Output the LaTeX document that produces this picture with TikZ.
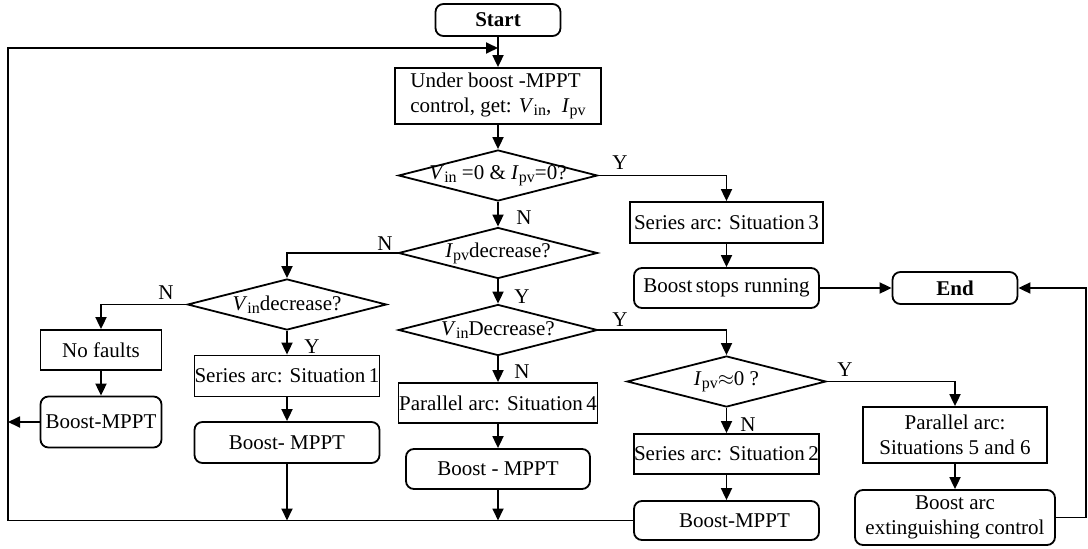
\documentclass[tikz,border=0pt]{standalone}
\usepackage{fontspec}
\setmainfont{Liberation Serif}
\usetikzlibrary{arrows.meta, shapes.geometric}
\tikzset{>={Triangle[length=12pt,width=11pt]}}

\newcommand{\sbs}[1]{\raisebox{-3pt}{\fontsize{16}{16}\selectfont #1}}
\newcommand{\Vin}{\textit{V}\sbs{in}}
\newcommand{\Ipv}{\textit{I}\sbs{pv}}

\begin{document}
\begin{tikzpicture}[x=1pt, y=-1pt, line width=1.8pt,
    every node/.style={font=\fontsize{21}{25}\selectfont},
    sz/.style 2 args={minimum width=#1pt, minimum height=#2pt},
    proc/.style={draw, rectangle, inner sep=0pt, align=center},
    term/.style={proc, rounded corners=8pt},
    dec/.style={draw, diamond, inner sep=0pt, minimum width=199pt, minimum height=51pt},
    yn/.style={inner sep=0pt}]
    \useasboundingbox (0,0) rectangle (1088,549);

    % main column
    \node[term, sz={125}{32}] (start) at (498,20) {\textbf{Start}};
    \node[proc, sz={206}{56}, align=left] (get) at (498,96) {Under boost -MPPT\\control, get: \Vin,\ \ \Ipv};
    \node[dec] (d1) at (498,175.5) {\makebox[0pt]{\Vin\ =0 \& \Ipv=0?}};
    \node[dec] (d2) at (498,253) {\makebox[0pt]{\Ipv decrease?}};
    \node[dec] (d4) at (498,330) {\makebox[0pt]{\Vin Decrease?}};
    \node[proc, sz={199}{40}] (s4) at (498,403) {Parallel arc: Situation\,4};
    \node[term, sz={184}{40}] (bm4) at (498,469) {Boost - MPPT};

    % left columns
    \node[dec] (d3) at (287,304.5) {\makebox[0pt]{\Vin decrease?}};
    \node[proc, sz={185}{41}] (s1) at (287,376) {Series arc: Situation\,1};
    \node[term, sz={185}{41}] (bm1) at (287,442.5) {Boost- MPPT};
    \node[proc, sz={121}{40}] (nf) at (101,350) {No faults};
    \node[term, sz={121}{51}] (bm0) at (101,422) {Boost-MPPT};

    % right columns
    \node[proc, sz={193}{41}] (s3) at (726.5,222.5) {Series arc: Situation\,3};
    \node[term, sz={185}{40}] (stop) at (726.5,288) {Boost\,stops running};
    \node[dec] (d5) at (726.5,381.5) {\makebox[0pt]{\Ipv$\approx$0 ?}};
    \node[proc, sz={185}{40}] (s2) at (726.5,454) {Series arc: Situation\,2};
    \node[term, sz={185}{39}] (bm2) at (726.5,520.5) {\hspace*{16pt}Boost-MPPT};
    \node[term, sz={125}{32}] (end) at (955,288) {\textbf{End}};
    \node[proc, sz={184}{56}] (s56) at (955,435) {Parallel arc:\\Situations 5 and 6};
    \node[term, sz={200}{55}] (ext) at (955,517.5) {Boost arc\\extinguishing control};

    \coordinate (lb) at (8,520.5);
    \coordinate (lt) at (8,48);
    \coordinate (rt) at (1086,517.5);

    \draw[->] (start) -- (get);
    \draw[->] (get) -- (d1);
    \draw[->] (d1.east) -| (s3.north);
    \draw[->] (d1) -- (d2);
    \draw[->] (s3) -- (stop);
    \draw[->] (stop) -- (end);
    \draw[->] (ext.east) -- (rt) |- (end.east);
    \draw[->] (d2.west) -| (d3.north);
    \draw[->] (d2) -- (d4);
    \draw[->] (d3.west) -| (nf.north);
    \draw[->] (d3) -- (s1);
    \draw[->] (nf) -- (bm0);
    \draw[->] (s1) -- (bm1);
    \draw[->] (d4) -- (s4);
    \draw[->] (s4) -- (bm4);
    \draw[->] (d4.east) -| (d5.north);
    \draw[->] (d5) -- (s2);
    \draw[->] (s2) -- (bm2);
    \draw[->] (d5.east) -| (s56.north);
    \draw[->] (s56) -- (ext);

    % loop back
    \draw[->] (bm2.west) -| (lt) -- (lt -| start.south);
    \draw[->] (bm0.west) -- (bm0.west -| lt);
    \draw[->] (bm1) -- (bm1 |- lb);
    \draw[->] (bm4) -- (bm4 |- lb);

    % Y / N marks
    \node[yn] (y1) at (620,163) {Y};
    \node[yn] (n1) at (524,218) {N};
    \node[yn] (n2) at (385,244) {N};
    \node[yn] (y2) at (522,297) {Y};
    \node[yn] (n3) at (166,293) {N};
    \node[yn] (y3) at (312,347) {Y};
    \node[yn] (n4) at (522,372) {N};
    \node[yn] (y4) at (620,320) {Y};
    \node[yn] (y5) at (845,370) {Y};
    \node[yn] (n5) at (748,425) {N};
\end{tikzpicture}
\end{document}
